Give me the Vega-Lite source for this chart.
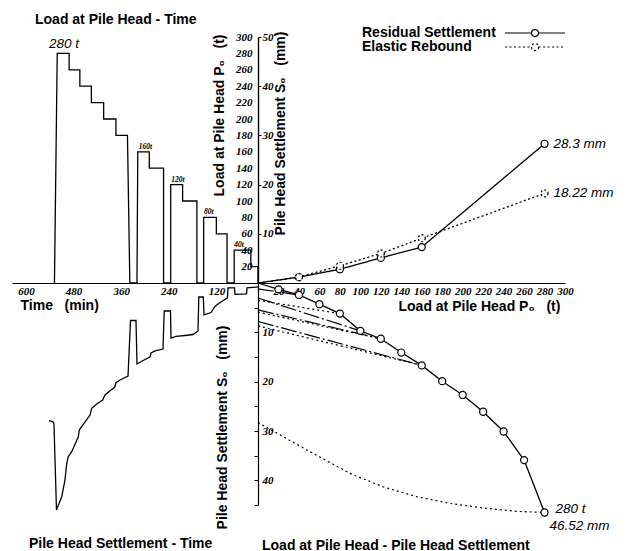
{
  "$schema": "https://vega.github.io/schema/vega-lite/v6.json",
  "padding": {"left": 12, "top": 13, "right": 5, "bottom": 0},
  "background": "white",
  "config": {
    "view": {"stroke": null},
    "font": "Liberation Sans",
    "axis": {"grid": false, "domainColor": "black", "domainWidth": 1.2, "tickColor": "black", "tickWidth": 1, "labelColor": "black", "titleColor": "black", "labelFont": "Liberation Serif", "labelFontStyle": "italic", "labelFontWeight": "bold", "labelFontSize": 11, "titleFont": "Liberation Sans", "titleFontWeight": "bold", "titleFontSize": 14, "labelFlush": false, "labelOverlap": false}
  },
  "datasets": {
    "loadTime": [
      {"i":0,"t":0,"load":0},{"i":1,"t":0,"load":20},{"i":2,"t":18,"load":20},{"i":3,"t":18,"load":40},{"i":4,"t":60,"load":40},{"i":5,"t":60,"load":0},
      {"i":6,"t":78,"load":0},{"i":7,"t":78,"load":60},{"i":8,"t":105,"load":60},{"i":9,"t":105,"load":80},{"i":10,"t":137,"load":80},{"i":11,"t":137,"load":0},
      {"i":12,"t":154,"load":0},{"i":13,"t":154,"load":100},{"i":14,"t":190,"load":100},{"i":15,"t":190,"load":120},{"i":16,"t":220,"load":120},{"i":17,"t":220,"load":0},
      {"i":18,"t":238,"load":0},{"i":19,"t":238,"load":140},{"i":20,"t":274,"load":140},{"i":21,"t":274,"load":160},{"i":22,"t":303,"load":160},{"i":23,"t":305,"load":0},
      {"i":24,"t":323,"load":0},{"i":25,"t":329,"load":180},{"i":26,"t":358,"load":180},{"i":27,"t":358,"load":200},{"i":28,"t":389,"load":200},{"i":29,"t":389,"load":220},
      {"i":30,"t":420,"load":220},{"i":31,"t":420,"load":240},{"i":32,"t":449,"load":240},{"i":33,"t":449,"load":260},{"i":34,"t":476,"load":260},{"i":35,"t":476,"load":280},
      {"i":36,"t":506,"load":280},{"i":37,"t":513,"load":0}
    ],
    "peakLabels": [
      {"t":489,"load":280,"label":"280 t","big":true},
      {"t":284,"load":160,"label":"160t","big":false},
      {"t":202,"load":120,"label":"120t","big":false},
      {"t":124,"load":80,"label":"80t","big":false},
      {"t":48,"load":40,"label":"40t","big":false}
    ],
    "cycles": [
      {"t":423,"label":"5"},{"t":275,"label":"4"},{"t":199,"label":"3"},{"t":111,"label":"2"},{"t":45,"label":"1"}
    ],
    "settleTime": [
      {"i":0,"t":0,"s":0.8},{"i":1,"t":27.7,"s":1.0},{"i":2,"t":29,"s":2.2},{"i":3,"t":58,"s":2.3},{"i":4,"t":59.2,"s":1.0},{"i":5,"t":75.6,"s":1.0},
      {"i":6,"t":76.9,"s":3.0},{"i":7,"t":93.3,"s":3.85},{"i":8,"t":100.8,"s":4.26},{"i":9,"t":108.4,"s":4.76},{"i":10,"t":118.5,"s":5.98},{"i":11,"t":136.1,"s":6.45},
      {"i":12,"t":137.9,"s":2.84},{"i":13,"t":149.2,"s":2.84},{"i":14,"t":151.2,"s":9.73},{"i":15,"t":163.8,"s":10.44},{"i":16,"t":184,"s":10.64},{"i":17,"t":206.7,"s":10.84},
      {"i":18,"t":219.3,"s":11.15},{"i":19,"t":220.5,"s":5.68},{"i":20,"t":236.4,"s":5.68},{"i":21,"t":239.4,"s":13.38},{"i":22,"t":259.6,"s":13.78},{"i":23,"t":269.7,"s":14.19},
      {"i":24,"t":272.2,"s":15.0},{"i":25,"t":284.8,"s":15.5},{"i":26,"t":305,"s":16.42},{"i":27,"t":307.5,"s":7.6},{"i":28,"t":321.3,"s":7.6},{"i":29,"t":327.6,"s":18.85},
      {"i":30,"t":347.8,"s":19.66},{"i":31,"t":357.9,"s":20.21},{"i":32,"t":361.2,"s":21.14},{"i":33,"t":373,"s":21.83},{"i":34,"t":385.6,"s":22.7},{"i":35,"t":391.4,"s":23.72},
      {"i":36,"t":406.5,"s":24.53},{"i":37,"t":419.1,"s":25.4},{"i":38,"t":423.4,"s":26.76},{"i":39,"t":444.3,"s":29.13},{"i":40,"t":450.4,"s":29.8},{"i":41,"t":452.9,"s":31.16},
      {"i":42,"t":469.5,"s":34.2},{"i":43,"t":478.1,"s":35.21},{"i":44,"t":482.1,"s":36.55},{"i":45,"t":486.4,"s":39.93},{"i":46,"t":494.7,"s":43.32},{"i":47,"t":507.9,"s":46.0},
      {"i":48,"t":514.2,"s":28.58},{"i":49,"t":517.4,"s":28.1},{"i":50,"t":526.8,"s":27.9}
    ],
    "rebound": [
      {"series":"Residual Settlement","load":0,"s":0},{"series":"Residual Settlement","load":40,"s":1.2},{"series":"Residual Settlement","load":80,"s":2.8},
      {"series":"Residual Settlement","load":120,"s":5.1},{"series":"Residual Settlement","load":160,"s":7.3},{"series":"Residual Settlement","load":280,"s":28.3},
      {"series":"Elastic Rebound","load":0,"s":0},{"series":"Elastic Rebound","load":40,"s":1.2},{"series":"Elastic Rebound","load":80,"s":3.5},
      {"series":"Elastic Rebound","load":120,"s":6.0},{"series":"Elastic Rebound","load":160,"s":9.1},{"series":"Elastic Rebound","load":280,"s":18.22}
    ],
    "reboundLabels": [
      {"load":280,"s":28.3,"label":"28.3 mm"},
      {"load":280,"s":18.22,"label":"18.22 mm"}
    ],
    "loadSettle": [
      {"load":0,"s":0},{"load":20,"s":1.28},{"load":40,"s":2.43},{"load":60,"s":4.3},{"load":80,"s":6.2},{"load":100,"s":9.7},{"load":120,"s":11.3},
      {"load":140,"s":14.1},{"load":160,"s":16.7},{"load":180,"s":19.9},{"load":200,"s":22.7},{"load":220,"s":26.1},{"load":240,"s":30.1},{"load":260,"s":35.9},{"load":280,"s":46.52}
    ],
    "loops": [
      {"loop":"R2","kind":"reload","load":0,"s":1.2},{"loop":"R2","kind":"reload","load":40,"s":2.43},
      {"loop":"U2","kind":"unload","load":80,"s":6.2},{"loop":"U2","kind":"unload","load":0,"s":3.5},
      {"loop":"R3","kind":"reload","load":0,"s":3.05},{"loop":"R3","kind":"reload","load":100,"s":9.7},
      {"loop":"U3","kind":"unload","load":120,"s":11.3},{"loop":"U3","kind":"unload","load":0,"s":5.9},
      {"loop":"R4","kind":"reload","load":0,"s":5.45},{"loop":"R4","kind":"reload","load":120,"s":11.3},
      {"loop":"U4","kind":"unload","load":160,"s":16.7},{"loop":"U4","kind":"unload","load":0,"s":8.7},
      {"loop":"R5","kind":"reload","load":0,"s":7.8},{"loop":"R5","kind":"reload","load":160,"s":16.7},
      {"loop":"U5","kind":"unload","load":280,"s":46.52},{"loop":"U5","kind":"unload","load":253,"s":46.3},{"loop":"U5","kind":"unload","load":220,"s":45.6},
      {"loop":"U5","kind":"unload","load":188,"s":44.7},{"loop":"U5","kind":"unload","load":155,"s":43.3},{"loop":"U5","kind":"unload","load":122,"s":41.3},
      {"loop":"U5","kind":"unload","load":90,"s":38.6},{"loop":"U5","kind":"unload","load":57,"s":34.9},{"loop":"U5","kind":"unload","load":25,"s":31.2},
      {"loop":"U5","kind":"unload","load":0,"s":28.3}
    ],
    "finalLabels": [
      {"load":280,"s":46.52,"label":"280 t","row":1},
      {"load":280,"s":46.52,"label":"46.52 mm","row":2}
    ]
  },
  "columns": 2,
  "spacing": 0,
  "bounds": "flush",
  "align": "each",
  "concat": [
    {
      "width": 246,
      "height": 246,
      "title": {"text": "Load at Pile Head - Time", "anchor": "start", "frame": "group", "dx": 23, "offset": -7, "baseline": "alphabetic", "fontSize": 14, "fontWeight": "bold", "font": "Liberation Sans", "color": "black"},
      "encoding": {
        "x": {"field": "t", "type": "quantitative", "scale": {"domain": [0, 620], "reverse": true, "nice": false, "zero": false},
          "axis": {"orient": "bottom", "values": [120, 240, 360, 480, 600], "ticks": false, "labelPadding": 2, "labelOffset": 6, "title": "Time\u00a0\u00a0\u00a0(min)", "titleX": 8, "titleY": 22, "titleAlign": "left", "titleBaseline": "middle"}},
        "y": {"field": "load", "type": "quantitative", "scale": {"domain": [0, 300], "nice": false},
          "axis": {"orient": "left", "offset": -246, "values": [20,40,60,80,100,120,140,160,180,200,220,240,260,280,300], "ticks": false, "labelPadding": 6, "title": "Load at Pile Head P\u2080\u00a0\u00a0\u00a0(t)", "titleX": -39, "titleY": 78, "titleAngle": 270, "titleAlign": "center", "titleBaseline": "middle"}}
      },
      "layer": [
        {"data": {"name": "loadTime"}, "mark": {"type": "line", "color": "black", "strokeWidth": 1.3}, "encoding": {"order": {"field": "i", "type": "quantitative"}}},
        {"data": {"name": "peakLabels"}, "transform": [{"filter": "datum.big"}], "mark": {"type": "text", "font": "Liberation Sans", "fontStyle": "italic", "fontSize": 13.5, "color": "black", "dy": -9, "baseline": "middle"}, "encoding": {"text": {"field": "label"}}},
        {"data": {"name": "peakLabels"}, "transform": [{"filter": "!datum.big"}], "mark": {"type": "text", "font": "Liberation Serif", "fontStyle": "italic", "fontWeight": "bold", "fontSize": 7.5, "color": "black", "dy": -5, "baseline": "middle"}, "encoding": {"text": {"field": "label"}}},
        {"data": {"name": "cycles"}, "mark": {"type": "text", "font": "Liberation Serif", "fontStyle": "italic", "fontWeight": "bold", "fontSize": 8, "color": "black", "dy": -7, "baseline": "middle"}, "encoding": {"y": {"datum": 0, "type": "quantitative"}, "text": {"field": "label"}}}
      ]
    },
    {
      "width": 307,
      "height": 246,
      "encoding": {
        "x": {"field": "load", "type": "quantitative", "scale": {"domain": [0, 300], "nice": false},
          "axis": {"orient": "bottom", "values": [20,40,60,80,100,120,140,160,180,200,220,240,260,280,300], "ticks": false, "labelPadding": 2, "title": "Load at Pile Head P\u2080\u00a0\u00a0\u00a0(t)", "titleX": 140, "titleY": 23, "titleAlign": "left", "titleBaseline": "middle"}},
        "y": {"field": "s", "type": "quantitative", "scale": {"domain": [0, 50], "nice": false},
          "axis": {"orient": "right", "offset": -307, "values": [10, 20, 30, 40, 50], "tickSize": 3, "labelPadding": 1, "title": "Pile Head Settlement S\u2080\u00a0\u00a0\u00a0(mm)", "titleX": 22, "titleY": 96, "titleAngle": 270, "titleAlign": "center", "titleBaseline": "middle"}}
      },
      "layer": [
        {"data": {"name": "rebound"}, "mark": {"type": "line", "color": "black", "strokeWidth": 1.3},
          "encoding": {"strokeDash": {"field": "series", "type": "nominal",
            "scale": {"domain": ["Residual Settlement", "Elastic Rebound"], "range": [[1, 0], [2, 2.5]]},
            "legend": {"orient": "none", "legendX": 336, "legendY": -11, "title": null, "symbolType": "M-5,0L-0.6,0M0.6,0L5,0M0.6,0L0.52,0.3L0.3,0.52L0,0.6L-0.3,0.52L-0.52,0.3L-0.6,0L-0.52,-0.3L-0.3,-0.52L0,-0.6L0.3,-0.52L0.52,-0.3Z", "symbolSize": 144, "symbolStrokeWidth": 1.2, "symbolStrokeColor": "black", "symbolFillColor": "white", "symbolOpacity": 1, "symbolOffset": 180, "labelOffset": -180, "rowPadding": 0, "padding": 0, "labelFont": "Liberation Sans", "labelFontWeight": "bold", "labelFontSize": 14, "labelColor": "black", "labelLimit": 300, "labelBaseline": "middle"}}}},
        {"data": {"name": "rebound"}, "transform": [{"filter": "datum.load > 0 && datum.series === 'Residual Settlement'"}], "mark": {"type": "point", "shape": "circle", "filled": true, "fill": "white", "stroke": "black", "strokeWidth": 1.2, "size": 50, "opacity": 1}},
        {"data": {"name": "rebound"}, "transform": [{"filter": "datum.load > 0 && datum.series === 'Elastic Rebound'"}], "mark": {"type": "point", "shape": "circle", "filled": true, "fill": "white", "stroke": "black", "strokeWidth": 1.2, "strokeDash": [2, 2], "size": 50, "opacity": 1}},
        {"data": {"name": "reboundLabels"}, "mark": {"type": "text", "font": "Liberation Sans", "fontStyle": "italic", "fontSize": 13.5, "color": "black", "align": "left", "dx": 9, "baseline": "middle"}, "encoding": {"text": {"field": "label"}}}
      ]
    },
    {
      "width": 246,
      "height": 222,
      "title": {"text": "Pile Head Settlement - Time", "orient": "bottom", "anchor": "start", "frame": "group", "dx": 17, "offset": 35, "baseline": "alphabetic", "fontSize": 14, "fontWeight": "bold", "font": "Liberation Sans", "color": "black"},
      "data": {"name": "settleTime"},
      "mark": {"type": "line", "color": "black", "strokeWidth": 1.3},
      "encoding": {
        "x": {"field": "t", "type": "quantitative", "scale": {"domain": [0, 620], "reverse": true, "nice": false, "zero": false}, "axis": null},
        "y": {"field": "s", "type": "quantitative", "scale": {"domain": [0, 45], "reverse": true, "nice": false}, "axis": null},
        "order": {"field": "i", "type": "quantitative"}
      }
    },
    {
      "width": 307,
      "height": 222,
      "title": {"text": "Load at Pile Head - Pile Head Settlement", "orient": "bottom", "anchor": "start", "frame": "group", "dx": 4, "offset": 17, "baseline": "alphabetic", "fontSize": 14, "fontWeight": "bold", "font": "Liberation Sans", "color": "black"},
      "encoding": {
        "x": {"field": "load", "type": "quantitative", "scale": {"domain": [0, 300], "nice": false}, "axis": null},
        "y": {"field": "s", "type": "quantitative", "scale": {"domain": [0, 45], "reverse": true, "nice": false},
          "axis": {"orient": "left", "values": [5, 10, 15, 20, 25, 30, 35, 40, 45], "labelExpr": "datum.value % 10 === 0 ? datum.label : ''", "tickSize": 4, "labelAlign": "left", "labelPadding": -8, "title": "Pile Head Settlement S\u2080\u00a0\u00a0\u00a0(mm)", "titleX": -36, "titleY": 144, "titleAngle": 270, "titleAlign": "center", "titleBaseline": "middle"}}
      },
      "layer": [
        {"data": {"name": "loops"}, "transform": [{"filter": "datum.kind === 'unload'"}], "mark": {"type": "line", "color": "black", "strokeWidth": 1.2, "strokeDash": [2, 3]}, "encoding": {"detail": {"field": "loop"}}},
        {"data": {"name": "loops"}, "transform": [{"filter": "datum.kind === 'reload'"}], "mark": {"type": "line", "color": "black", "strokeWidth": 1.2, "strokeDash": [16, 3, 2, 3]}, "encoding": {"detail": {"field": "loop"}}},
        {"data": {"name": "loadSettle"}, "mark": {"type": "line", "color": "black", "strokeWidth": 1.3}},
        {"data": {"name": "loadSettle"}, "transform": [{"filter": "datum.load > 0"}], "mark": {"type": "point", "shape": "circle", "filled": true, "fill": "white", "stroke": "black", "strokeWidth": 1.2, "size": 50, "opacity": 1}},
        {"data": {"name": "finalLabels"}, "transform": [{"filter": "datum.row === 1"}], "mark": {"type": "text", "font": "Liberation Sans", "fontStyle": "italic", "fontSize": 13.5, "color": "black", "align": "left", "dx": 11, "dy": -3, "baseline": "middle"}, "encoding": {"text": {"field": "label"}}},
        {"data": {"name": "finalLabels"}, "transform": [{"filter": "datum.row === 2"}], "mark": {"type": "text", "font": "Liberation Sans", "fontStyle": "italic", "fontSize": 13.5, "color": "black", "align": "left", "dx": 5, "dy": 14, "baseline": "middle"}, "encoding": {"text": {"field": "label"}}}
      ]
    }
  ]
}
